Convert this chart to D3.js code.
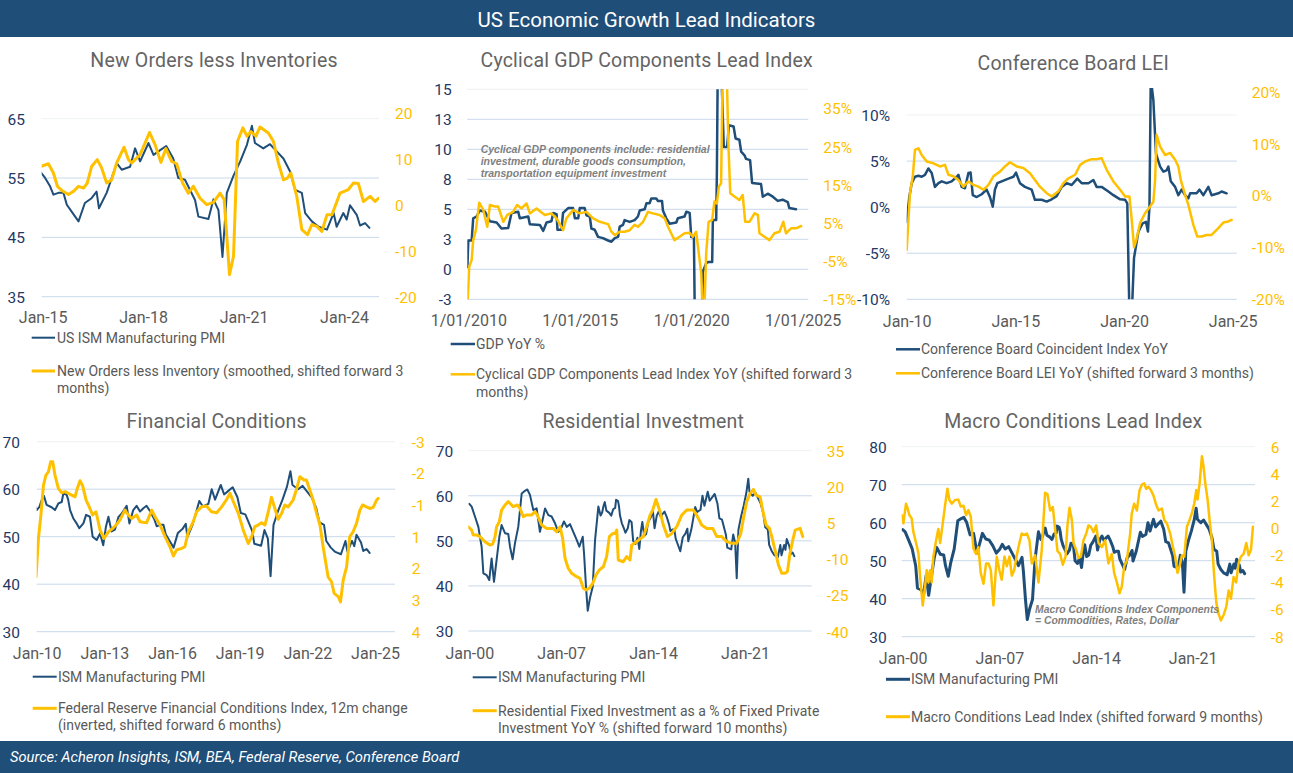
<!DOCTYPE html>
<html><head><meta charset="utf-8">
<script src="https://cdn.jsdelivr.net/npm/d3@7"></script>
<style>
body{margin:0;background:#fff}
svg{display:block}
text{font-family:Roboto,'DejaVu Sans',sans-serif}
</style>
</head><body>
<svg id="c" width="1293" height="773"></svg>
<script>
// ---------------- DATA (decimal year, value) ----------------
const ismPMI = [[2000.0,58.2],[2000.18,57.6],[2000.43,55.4],[2000.69,53.1],[2000.81,50.9],[2000.94,48.7],[2001.07,42.8],[2001.32,42.4],[2001.52,41.3],[2001.7,46.1],[2001.88,40.9],[2002.08,45.8],[2002.29,50.9],[2002.46,53.5],[2002.72,51.7],[2002.97,51.5],[2003.1,48.7],[2003.3,45.9],[2003.48,49.5],[2003.73,53.1],[2003.99,60.5],[2004.24,61.1],[2004.42,61.4],[2004.62,60.2],[2004.88,56.8],[2005.13,57.2],[2005.38,52.0],[2005.64,55.4],[2005.77,57.2],[2006.02,55.7],[2006.27,55.4],[2006.53,53.9],[2006.78,52.0],[2007.04,53.1],[2007.21,54.3],[2007.42,53.1],[2007.67,53.7],[2007.92,52.0],[2008.18,50.2],[2008.38,48.7],[2008.64,50.9],[2008.74,47.2],[2008.89,39.8],[2009.02,34.5],[2009.19,37.3],[2009.4,39.8],[2009.58,50.2],[2009.83,57.6],
[2010.0,55.6],[2010.12,56.3],[2010.22,57.7],[2010.32,58.6],[2010.44,56.7],[2010.66,56.2],[2010.81,55.6],[2010.96,57.0],[2011.11,57.3],[2011.18,59.1],[2011.33,58.8],[2011.4,57.7],[2011.48,55.6],[2011.62,53.9],[2011.77,52.8],[2011.89,51.8],[2012.07,52.8],[2012.19,54.6],[2012.36,54.2],[2012.48,50.0],[2012.66,49.3],[2012.81,50.7],[2012.95,48.2],[2013.07,52.1],[2013.18,54.2],[2013.32,51.1],[2013.47,51.5],[2013.62,54.1],[2013.77,54.9],[2013.99,56.5],[2014.11,52.8],[2014.28,55.6],[2014.43,56.5],[2014.58,55.3],[2014.73,56.0],[2014.87,56.5],
[2015.05,55.2],[2015.22,53.6],[2015.32,52.2],[2015.47,52.5],[2015.62,52.5],[2015.72,50.5],[2015.87,49.3],[2016.07,47.7],[2016.26,50.8],[2016.46,51.6],[2016.61,52.7],[2016.68,49.9],[2016.91,52.5],[2017.21,57.5],[2017.36,56.4],[2017.61,56.9],[2017.76,60.0],[2017.91,57.8],[2018.16,60.9],[2018.31,58.9],[2018.51,59.7],[2018.69,60.4],[2018.9,58.3],[2019.05,55.0],[2019.25,54.7],[2019.55,51.3],[2019.65,48.5],[2019.95,48.1],[2020.1,51.4],[2020.25,49.6],[2020.37,41.7],[2020.5,52.5],[2020.7,55.4],[2020.9,57.8],[2021.1,60.6],[2021.25,63.8],[2021.34,60.9],[2021.59,60.0],[2021.79,60.7],[2021.99,59.5],[2022.19,58.3],[2022.39,56.1],[2022.54,53.0],[2022.74,52.5],[2022.84,49.1],[2023.04,47.7],[2023.24,46.8],[2023.49,46.3],[2023.69,49.1],[2023.78,46.8],[2023.98,49.1],[2024.08,48.0],[2024.18,50.4],[2024.38,48.8],[2024.48,47.0],[2024.63,47.4],[2024.76,46.6]];

const newOrdersLessInv = [[2014.94,8.3],[2015.17,8.9],[2015.32,6.9],[2015.44,4.0],[2015.57,3.1],[2015.77,2.2],[2015.92,2.9],[2016.07,4.0],[2016.22,3.6],[2016.33,4.7],[2016.46,8.3],[2016.63,9.8],[2016.76,8.0],[2016.91,4.7],[2017.06,5.4],[2017.21,9.1],[2017.43,12.5],[2017.56,9.8],[2017.66,9.1],[2017.91,10.9],[2018.19,15.7],[2018.36,13.0],[2018.53,9.2],[2018.68,12.2],[2018.85,9.4],[2019.0,8.9],[2019.18,4.7],[2019.35,2.5],[2019.5,4.0],[2019.7,1.4],[2019.9,0],[2020.1,0.5],[2020.3,2.5],[2020.42,1.1],[2020.58,-15.2],[2020.7,-11.2],[2020.82,13.8],[2020.98,16.7],[2021.1,14.9],[2021.22,15.9],[2021.37,14.9],[2021.49,16.9],[2021.74,15.6],[2021.89,13.8],[2022.04,9.1],[2022.19,5.4],[2022.31,5.8],[2022.41,6.9],[2022.59,1.8],[2022.74,-5.4],[2022.91,-6.5],[2023.04,-4.3],[2023.19,-4.7],[2023.34,-5.8],[2023.49,-2.2],[2023.64,-2.2],[2023.88,2.5],[2024.13,3.3],[2024.28,4.7],[2024.43,4.6],[2024.58,0.7],[2024.78,1.8],[2024.93,0.7],[2025.03,1.4]];

const gdpYoY = [[2009.96,0.2],[2010.0,2.4],[2010.15,2.4],[2010.22,4.25],[2010.37,4.4],[2010.52,4.9],[2010.75,4.8],[2010.97,4.0],[2011.27,3.9],[2011.49,3.4],[2011.79,3.45],[2011.94,4.7],[2012.24,4.8],[2012.31,4.25],[2012.69,4.4],[2012.76,3.75],[2013.21,3.7],[2013.36,3.2],[2013.51,3.9],[2013.73,4.0],[2013.81,4.7],[2013.96,4.6],[2014.0,3.3],[2014.18,3.3],[2014.25,4.7],[2014.48,5.1],[2014.7,5.1],[2014.78,4.25],[2014.93,4.25],[2015.0,5.1],[2015.22,5.1],[2015.3,4.5],[2015.45,4.4],[2015.52,3.4],[2015.67,3.3],[2015.82,2.7],[2016.04,2.6],[2016.27,2.4],[2016.42,2.3],[2016.57,2.6],[2016.72,2.7],[2016.79,3.55],[2016.94,3.7],[2017.01,4.1],[2017.24,3.95],[2017.46,4.1],[2017.61,4.4],[2017.69,4.9],[2017.91,5.0],[2017.99,5.5],[2018.13,5.5],[2018.21,5.9],[2018.43,5.9],[2018.51,5.7],[2018.69,5.7],[2018.73,4.9],[2018.88,4.25],[2019.03,3.8],[2019.33,3.9],[2019.4,4.25],[2019.7,4.4],[2019.78,4.8],[2019.93,4.7],[2020.0,2.7],[2020.12,2.7],[2020.19,-9],[2020.45,-9],[2020.52,-0.2],[2020.67,0.5],[2020.75,0.6],[2020.94,0.6],[2020.97,4.1],[2021.12,4.1],[2021.15,8],[2021.19,17],[2021.34,17],[2021.46,10.2],[2021.61,10.2],[2021.69,12],[2021.9,11.9],[2021.99,10.9],[2022.16,10.8],[2022.24,9.8],[2022.39,9.5],[2022.46,9.2],[2022.64,9.1],[2022.73,7.2],[2023.13,7.1],[2023.21,6.05],[2023.43,6.3],[2023.66,6.05],[2023.88,5.7],[2024.1,5.8],[2024.33,5.6],[2024.4,5.1],[2024.7,5.0]];

const cyclicalLeadYoY = [[2009.96,-17],[2010.04,-6.5],[2010.15,-4.7],[2010.22,0.5],[2010.34,3.1],[2010.49,10.3],[2010.67,8.4],[2010.85,4.0],[2010.97,9.7],[2011.19,9.3],[2011.34,9.3],[2011.57,5.3],[2011.75,7.1],[2012.01,7.9],[2012.19,9.7],[2012.39,8.8],[2012.61,10.1],[2012.76,7.5],[2013.06,8.8],[2013.43,7.1],[2013.73,7.5],[2013.96,6.2],[2014.25,3.1],[2014.4,6.2],[2014.7,8.4],[2015.0,7.5],[2015.3,7.9],[2015.6,6.2],[2015.9,5.3],[2016.27,4.7],[2016.42,2.7],[2016.57,1.8],[2016.79,2.7],[2017.01,2.7],[2017.24,3.1],[2017.46,4.5],[2017.61,4.0],[2017.84,5.3],[2018.06,7.9],[2018.28,7.5],[2018.58,7.1],[2018.81,6.2],[2018.96,4.0],[2019.1,2.3],[2019.25,0.5],[2019.48,1.4],[2019.7,2.3],[2019.93,2.4],[2020.07,1.4],[2020.22,2.7],[2020.34,-3.0],[2020.45,-8.2],[2020.55,-25],[2020.67,-3.0],[2020.78,5.3],[2020.94,5.8],[2021.04,10.6],[2021.15,10.1],[2021.24,14.5],[2021.34,15.4],[2021.42,50],[2021.57,50],[2021.67,25],[2021.75,12.8],[2021.94,11.9],[2022.16,11.0],[2022.31,12.3],[2022.42,5.3],[2022.61,5.3],[2022.84,7.5],[2022.99,7.1],[2023.06,2.3],[2023.28,1.4],[2023.51,0.5],[2023.73,2.3],[2023.96,2.7],[2024.13,5.3],[2024.25,2.3],[2024.48,3.6],[2024.7,3.6],[2024.93,4.2]];

const cbCoincidentYoY = [[2010.0,-1.6],[2010.12,1.1],[2010.23,2.6],[2010.38,3.3],[2010.54,3.4],[2010.69,3.3],[2010.84,3.5],[2011.0,4.2],[2011.15,3.7],[2011.3,2.2],[2011.46,2.6],[2011.61,2.8],[2011.84,2.6],[2012.07,2.8],[2012.3,3.3],[2012.38,3.5],[2012.53,2.2],[2012.68,2.05],[2012.84,3.7],[2012.94,3.75],[2013.04,1.3],[2013.22,1.1],[2013.45,1.4],[2013.68,1.9],[2013.83,1.1],[2013.96,0.06],[2014.06,1.9],[2014.17,2.6],[2014.37,2.8],[2014.68,3.1],[2014.91,3.3],[2015.03,3.75],[2015.21,2.6],[2015.44,2.2],[2015.75,1.9],[2015.9,0.8],[2016.21,0.8],[2016.44,0.6],[2016.67,0.85],[2016.9,1.2],[2017.13,2.2],[2017.36,2.6],[2017.59,2.4],[2017.85,3.1],[2018.05,2.6],[2018.36,2.6],[2018.59,2.95],[2018.74,2.2],[2018.97,2.2],[2019.28,1.7],[2019.51,1.3],[2019.82,0.85],[2020.05,0.8],[2020.15,0.4],[2020.25,-12],[2020.35,-12],[2020.46,-5.5],[2020.66,-2.65],[2020.86,-1.75],[2021.01,-1.6],[2021.1,-2.65],[2021.17,0.06],[2021.23,14],[2021.35,11.6],[2021.47,5.8],[2021.66,4.4],[2021.81,3.85],[2021.96,4.0],[2022.04,4.4],[2022.15,2.8],[2022.35,2.2],[2022.5,1.3],[2022.65,1.9],[2022.81,1.3],[2022.96,0.96],[2023.04,1.5],[2023.34,1.5],[2023.47,1.9],[2023.65,1.3],[2023.88,2.2],[2024.03,1.3],[2024.34,1.5],[2024.49,1.7],[2024.72,1.5]];

const cbLeiYoY = [[2010.0,-10.5],[2010.15,0.45],[2010.28,3.7],[2010.38,8.8],[2010.54,9.1],[2010.69,7.8],[2010.92,6.55],[2011.23,6.2],[2011.53,5.6],[2011.76,5.9],[2011.92,4.0],[2012.15,3.7],[2012.38,3.0],[2012.61,1.7],[2012.84,2.7],[2013.07,2.05],[2013.3,1.7],[2013.53,1.1],[2013.76,2.05],[2013.99,3.7],[2014.29,4.6],[2014.52,5.6],[2014.75,6.4],[2015.06,5.6],[2015.37,5.3],[2015.67,4.3],[2015.9,3.0],[2016.13,1.7],[2016.44,0.45],[2016.67,-0.2],[2016.98,0.8],[2017.21,2.4],[2017.44,3.3],[2017.75,4.0],[2017.98,5.9],[2018.21,6.55],[2018.51,7.0],[2018.74,7.0],[2018.97,7.2],[2019.2,4.95],[2019.51,2.7],[2019.82,1.1],[2020.05,-0.2],[2020.25,-0.2],[2020.35,-4.5],[2020.46,-9.95],[2020.58,-8.35],[2020.74,-5.3],[2020.97,-3.4],[2021.2,-2.1],[2021.35,-1.2],[2021.43,3.0],[2021.5,11.7],[2021.66,9.4],[2021.89,7.8],[2022.12,8.2],[2022.35,6.9],[2022.5,5.6],[2022.61,3.0],[2022.81,0.13],[2022.96,-1.8],[2023.19,-5.65],[2023.37,-7.9],[2023.57,-7.9],[2023.8,-7.6],[2024.03,-7.6],[2024.34,-6.3],[2024.57,-5.2],[2024.8,-5.0],[2024.95,-4.7]];

const fedFciChange = [[2009.97,1.98],[2010.07,0.62],[2010.18,-0.24],[2010.3,-1.4],[2010.41,-1.77],[2010.52,-1.89],[2010.62,-2.26],[2010.71,-2.26],[2010.81,-1.77],[2010.96,-1.28],[2011.11,-1.12],[2011.26,-1.16],[2011.4,-1.1],[2011.55,-1.03],[2011.7,-0.97],[2011.8,-1.28],[2011.92,-1.56],[2012.04,-1.37],[2012.19,-0.85],[2012.33,-0.6],[2012.48,-0.3],[2012.63,-0.42],[2012.81,0.26],[2012.98,0.56],[2013.18,0.32],[2013.37,0.19],[2013.52,0.07],[2013.69,-0.11],[2013.91,-0.48],[2014.06,-0.3],[2014.21,-0.17],[2014.43,-0.3],[2014.58,-0.05],[2014.87,-0.01],[2015.1,-0.48],[2015.24,-0.24],[2015.47,0.07],[2015.69,0.5],[2015.91,0.87],[2016.06,1.21],[2016.2,0.99],[2016.43,0.93],[2016.57,0.87],[2016.72,0.32],[2016.94,-0.05],[2017.09,-0.42],[2017.31,-0.6],[2017.53,-0.63],[2017.75,-0.42],[2017.98,-0.38],[2018.2,-0.6],[2018.42,-0.87],[2018.57,-1.1],[2018.72,-0.79],[2018.94,-0.36],[2019.16,0.26],[2019.38,0.75],[2019.53,0.5],[2019.67,0.13],[2019.82,0.07],[2019.97,-0.01],[2020.12,0.07],[2020.27,-0.42],[2020.41,-0.95],[2020.56,-0.54],[2020.71,-0.14],[2020.86,-0.36],[2021.0,-0.67],[2021.15,-0.6],[2021.37,-0.85],[2021.52,-1.24],[2021.67,-1.71],[2021.85,-1.59],[2021.96,-1.59],[2022.11,-1.22],[2022.26,-0.85],[2022.41,-0.36],[2022.56,0.07],[2022.7,0.87],[2022.92,1.98],[2023.07,2.16],[2023.19,2.59],[2023.37,2.71],[2023.47,2.9],[2023.59,2.1],[2023.74,1.61],[2023.88,0.5],[2024.03,0.32],[2024.18,0.01],[2024.33,-0.48],[2024.45,-0.67],[2024.62,-0.6],[2024.77,-0.54],[2024.92,-0.58],[2025.07,-0.85],[2025.14,-0.91]];

const resInvShareYoY = [[1999.92,3.5],[2000.18,2.1],[2000.3,0.1],[2000.56,0.1],[2000.81,-0.6],[2001.19,-2.7],[2001.57,-4.1],[2001.78,-3.7],[2001.96,-0.6],[2002.08,3.5],[2002.29,5.6],[2002.46,10.4],[2002.72,12.5],[2002.97,13.9],[2003.35,11.8],[2003.66,12.5],[2003.86,11.1],[2004.11,7.7],[2004.37,8.4],[2004.75,8.4],[2005.0,9.7],[2005.18,8.4],[2005.51,4.2],[2005.89,2.8],[2006.2,2.8],[2006.4,2.8],[2006.65,1.4],[2006.91,3.5],[2007.11,-1.3],[2007.29,-9.5],[2007.54,-13.8],[2007.8,-15.8],[2008.18,-17.2],[2008.43,-17.9],[2008.69,-22],[2008.89,-22.7],[2009.14,-22],[2009.4,-20],[2009.65,-16.5],[2009.91,-14.4],[2010.21,-13.1],[2010.46,-8.9],[2010.67,-0.6],[2010.92,0.7],[2011.1,0.7],[2011.23,2.1],[2011.35,-10.3],[2011.73,-11],[2011.99,-8.9],[2012.24,-10.3],[2012.37,-4.1],[2012.75,-2.7],[2013.06,-1.3],[2013.26,-0.6],[2013.51,3.5],[2013.77,8.3],[2013.97,10.4],[2014.22,14.8],[2014.53,9.7],[2014.78,4.2],[2015.09,-0.6],[2015.42,0.7],[2015.8,3.5],[2016.18,8.3],[2016.56,10.4],[2017.07,10.4],[2017.32,8.3],[2017.7,4.2],[2018.08,2.8],[2018.54,2.8],[2018.85,-0.6],[2019.23,-0.6],[2019.61,-2.7],[2019.99,-3.4],[2020.37,-3.4],[2020.68,0.7],[2020.88,6.9],[2021.13,13.9],[2021.39,17.3],[2021.64,19],[2021.84,16.6],[2022.15,15.9],[2022.4,9.0],[2022.61,4.2],[2022.86,2.8],[2023.04,-0.6],[2023.29,-6.2],[2023.55,-12.4],[2023.8,-15.8],[2024.05,-15.8],[2024.23,-15.1],[2024.43,-7.5],[2024.64,-2.0],[2024.82,2.1],[2025.2,2.8],[2025.4,-0.6]];

const macroLeadIndex = [[1999.93,0.96],[2000.05,0.35],[2000.24,1.8],[2000.36,1.45],[2000.48,0.96],[2000.65,0.72],[2000.77,-0.27],[2000.97,-1.1],[2001.14,-1.86],[2001.26,-3.6],[2001.45,-5.7],[2001.62,-4.3],[2001.74,-3.1],[2001.86,-4.0],[2001.98,-3.1],[2002.1,-4.0],[2002.22,-2.1],[2002.42,-0.9],[2002.58,-0.07],[2002.71,-1.1],[2002.9,0.35],[2003.07,1.7],[2003.24,2.9],[2003.38,2.07],[2003.55,1.8],[2003.79,2.07],[2004.03,2.1],[2004.2,1.6],[2004.4,1.65],[2004.59,0.96],[2004.76,1.33],[2004.93,0.84],[2005.12,-1.5],[2005.31,-1.9],[2005.48,-1.4],[2005.65,-3.3],[2005.85,-4.1],[2006.04,-2.6],[2006.21,-2.6],[2006.38,-3.1],[2006.57,-5.7],[2006.81,-2.1],[2007.0,-3.1],[2007.17,-3.8],[2007.37,-2.1],[2007.54,-2.8],[2007.73,-2.1],[2007.9,-3.5],[2008.07,-3.1],[2008.26,-2.0],[2008.45,-1.1],[2008.62,-0.4],[2008.79,-0.5],[2008.99,-0.4],[2009.18,-0.9],[2009.35,-2.6],[2009.59,-2.0],[2009.83,-4.0],[2010.07,-1.6],[2010.31,2.6],[2010.48,2.5],[2010.68,1.3],[2010.87,1.55],[2011.04,-0.1],[2011.21,-1.7],[2011.4,-1.9],[2011.59,-2.7],[2011.79,-2.1],[2011.93,0.2],[2012.08,1.5],[2012.25,0.6],[2012.37,-1.1],[2012.56,-1.6],[2012.73,-2.2],[2012.9,-2.1],[2013.09,-0.9],[2013.29,-0.4],[2013.45,0.2],[2013.62,0.1],[2013.82,-0.3],[2014.01,0.2],[2014.18,-1.1],[2014.42,-1.4],[2014.66,-0.9],[2014.9,-2.6],[2015.14,-1.9],[2015.31,-3.3],[2015.51,-4.0],[2015.7,-4.8],[2015.87,-4.3],[2016.04,-2.8],[2016.23,-2.4],[2016.47,-0.4],[2016.59,1.1],[2016.76,1.8],[2016.96,1.3],[2017.15,2.8],[2017.32,3.2],[2017.49,3.3],[2017.63,2.9],[2017.8,3.05],[2017.97,2.8],[2018.16,2.4],[2018.36,1.7],[2018.53,1.3],[2018.77,1.45],[2018.94,0.6],[2019.13,0.35],[2019.37,-0.4],[2019.57,-1.4],[2019.73,-2.1],[2019.9,-3.3],[2020.05,-2.8],[2020.22,-2.0],[2020.39,-2.1],[2020.58,0.1],[2020.77,0.6],[2020.94,1.1],[2021.11,1.8],[2021.26,2.8],[2021.35,2.1],[2021.5,3.3],[2021.67,5.3],[2021.79,4.5],[2021.91,3.3],[2022.08,2.1],[2022.22,0.6],[2022.39,-0.9],[2022.56,-3.6],[2022.71,-5.5],[2022.87,-6.3],[2023.04,-6.8],[2023.24,-6.4],[2023.43,-5.8],[2023.6,-4.6],[2023.77,-5.2],[2023.96,-3.6],[2024.15,-4.0],[2024.32,-2.6],[2024.49,-2.1],[2024.69,-1.9],[2024.88,-1.1],[2025.05,-2.0],[2025.22,-1.6],[2025.36,0.1]];

// tick values and labels
const p1XTicks = [2015,2018,2021,2024], p1XLabels = ['Jan-15','Jan-18','Jan-21','Jan-24'];
const p1LTicks = [35,45,55,65], p1LLabels = ['35','45','55','65'];
const p1RTicks = [-20,-10,0,10,20], p1RLabels = ['-20','-10','0','10','20'];
const p2XTicks = [2010,2015,2020,2025], p2XLabels = ['1/01/2010','1/01/2015','1/01/2020','1/01/2025'];
const p2LTicks = [-2.5,0,2.5,5,7.5,10,12.5,15], p2LLabels = ['-3','0','3','5','8','10','13','15'];
const p2RTicks = [-15,-5,5,15,25,35], p2RLabels = ['-15%','-5%','5%','15%','25%','35%'];
const p3XTicks = [2010,2015,2020,2025], p3XLabels = ['Jan-10','Jan-15','Jan-20','Jan-25'];
const p3LTicks = [-10,-5,0,5,10], p3LLabels = ['-10%','-5%','0%','5%','10%'];
const p3RTicks = [-20,-10,0,10,20], p3RLabels = ['-20%','-10%','0%','10%','20%'];
const p4XTicks = [2010,2013,2016,2019,2022,2025], p4XLabels = ['Jan-10','Jan-13','Jan-16','Jan-19','Jan-22','Jan-25'];
const p4LTicks = [30,40,50,60,70], p4LLabels = ['30','40','50','60','70'];
const p4RTicks = [-3,-1.833,-0.667,0.5,1.667,2.833,4], p4RLabels = ['-3','-2','-1','1','2','3','4'];
const p5XTicks = [2000,2007,2014,2021], p5XLabels = ['Jan-00','Jan-07','Jan-14','Jan-21'];
const p5LTicks = [30,40,50,60,70], p5LLabels = ['30','40','50','60','70'];
const p5RTicks = [-40,-25,-10,5,20,35], p5RLabels = ['-40','-25','-10','5','20','35'];
const p6XTicks = [2000,2007,2014,2021], p6XLabels = ['Jan-00','Jan-07','Jan-14','Jan-21'];
const p6LTicks = [30,40,50,60,70,80], p6LLabels = ['30','40','50','60','70','80'];
const p6RTicks = [-8,-6,-4,-2,0,2,4,6], p6RLabels = ['-8','-6','-4','-2','0','2','4','6'];

// ---------------- STYLE ----------------
const NAVY = '#1f4e79', GOLD = '#ffc000', GRAY = '#595959', BAND = '#1f4e79';
const svg = d3.select('#c');
svg.append('rect').attr('width',1293).attr('height',773).attr('fill','#fff');
svg.append('rect').attr('x',0).attr('y',0).attr('width',1293).attr('height',37).attr('fill',BAND);
svg.append('text').attr('x',646.5).attr('y',19.5).attr('text-anchor','middle').attr('dominant-baseline','central')
  .attr('fill','#fff').attr('font-size',20.5).text('US Economic Growth Lead Indicators');
svg.append('rect').attr('x',0).attr('y',741).attr('width',1293).attr('height',32).attr('fill',BAND);
svg.append('text').attr('x',10).attr('y',757).attr('dominant-baseline','central').attr('fill','#fff')
  .attr('font-size',14.7).attr('font-style','italic').text('Source: Acheron Insights, ISM, BEA, Federal Reserve, Conference Board');

const panels = [
 {title:'New Orders less Inventories', tx:214, ty:60, gx0:41.7, gx1:379, top:110, bottom:297,
  xA:[2015,42.7], xB:[2024,344], xTicks:p1XTicks, xLabels:p1XLabels, xLabelY:317,
  lDom:[35,65], lRange:[296.7,118.7], lTicks:p1LTicks, lLabels:p1LLabels, lX:25,
  rDom:[-20,20], rRange:[296.7,112.7], rTicks:p1RTicks, rLabels:p1RLabels, rX:395,
  series:[{data:ismPMI, axis:'l', color:NAVY, w:2},{data:newOrdersLessInv, axis:'r', color:GOLD, w:3}],
  legend:[{y:337.7,x0:31.7,x1:55,tx:57,color:NAVY,w:2,lines:['US ISM Manufacturing PMI']},
          {y:371,x0:31.7,x1:55,tx:57,color:GOLD,w:3,lines:['New Orders less Inventory (smoothed, shifted forward 3','months)']}], gap:17},
 {title:'Cyclical GDP Components Lead Index', tx:646.7, ty:60, gx0:467.3, gx1:808.3, top:89.3, bottom:299.3,
  xA:[2010,468.3], xB:[2025,802.7], xTicks:p2XTicks, xLabels:p2XLabels, xLabelY:320,
  lDom:[-2.5,15], lRange:[299.3,89.3], lTicks:p2LTicks, lLabels:p2LLabels, lX:451.7,
  rDom:[-15,40], rRange:[299.3,89.3], rTicks:p2RTicks, rLabels:p2RLabels, rX:823.3,
  series:[{data:gdpYoY, axis:'l', color:NAVY, w:2.5},{data:cyclicalLeadYoY, axis:'r', color:GOLD, w:2.5}],
  legend:[{y:344,x0:450.7,x1:475,tx:476,color:NAVY,w:2.5,lines:['GDP YoY %']},
          {y:374.3,x0:450.7,x1:475,tx:476,color:GOLD,w:2.5,lines:['Cyclical GDP Components Lead Index YoY (shifted forward 3','months)']}], gap:17.4,
  note:{x:480.7, y:149, size:10.5, gap:11.8, lines:['Cyclical GDP components include: residential','investment, durable goods consumption,','transportation equipment investment']}},
 {title:'Conference Board LEI', tx:1073.3, ty:63, gx0:906.7, gx1:1236.7, top:88, bottom:299.3,
  xA:[2010,906.7], xB:[2025,1232.7], xTicks:p3XTicks, xLabels:p3XLabels, xLabelY:321.7,
  lDom:[-10,10], lRange:[299.3,115], lTicks:p3LTicks, lLabels:p3LLabels, lX:890,
  rDom:[-20,20], rRange:[299.3,91.7], rTicks:p3RTicks, rLabels:p3RLabels, rX:1251.7,
  series:[{data:cbCoincidentYoY, axis:'l', color:NAVY, w:2.5},{data:cbLeiYoY, axis:'r', color:GOLD, w:2.5}],
  legend:[{y:349.3,x0:896,x1:920,tx:921,color:NAVY,w:2.5,lines:['Conference Board Coincident Index YoY']},
          {y:373.3,x0:896,x1:920,tx:921,color:GOLD,w:2.5,lines:['Conference Board LEI YoY (shifted forward 3 months)']}], gap:17},
 {title:'Financial Conditions', tx:216.7, ty:421.7, gx0:36.7, gx1:395, top:441.7, bottom:631.7,
  xA:[2010,36.7], xB:[2025,375], xTicks:p4XTicks, xLabels:p4XLabels, xLabelY:653.3,
  lDom:[30,70], lRange:[631.7,441.7], lTicks:p4LTicks, lLabels:p4LLabels, lX:20,
  rDom:[-3,4], rRange:[441.7,631.7], rTicks:p4RTicks, rLabels:p4RLabels, rX:411.7,
  series:[{data:ismPMI, axis:'l', color:NAVY, w:2},{data:fedFciChange, axis:'r', color:GOLD, w:3}],
  legend:[{y:676.7,x0:32.7,x1:56.7,tx:58,color:NAVY,w:2,lines:['ISM Manufacturing PMI']},
          {y:708.3,x0:32.7,x1:56.7,tx:58,color:GOLD,w:3,lines:['Federal Reserve Financial Conditions Index, 12m change','(inverted, shifted forward 6 months)']}], gap:16.7},
 {title:'Residential Investment', tx:643.3, ty:421.7, gx0:468.3, gx1:811.7, top:450.7, bottom:631.7,
  xA:[2000,469.3], xB:[2021,745], xTicks:p5XTicks, xLabels:p5XLabels, xLabelY:653.3,
  lDom:[30,70], lRange:[631,450.7], lTicks:p5LTicks, lLabels:p5LLabels, lX:453.3,
  rDom:[-40,35], rRange:[631.7,450.7], rTicks:p5RTicks, rLabels:p5RLabels, rX:826.7,
  series:[{data:ismPMI, axis:'l', color:NAVY, w:2},{data:resInvShareYoY, axis:'r', color:GOLD, w:3}],
  legend:[{y:677.3,x0:472.7,x1:496.7,tx:498,color:NAVY,w:2,lines:['ISM Manufacturing PMI']},
          {y:710.7,x0:472.7,x1:496.7,tx:498,color:GOLD,w:3,lines:['Residential Fixed Investment as a % of Fixed Private','Investment YoY % (shifted forward 10 months)']}], gap:17.6},
 {title:'Macro Conditions Lead Index', tx:1073.3, ty:421.7, gx0:901.7, gx1:1255, top:446.7, bottom:636.7,
  xA:[2000,902.7], xB:[2021,1192.7], xTicks:p6XTicks, xLabels:p6XLabels, xLabelY:658.3,
  lDom:[30,80], lRange:[636.7,446.7], lTicks:p6LTicks, lLabels:p6LLabels, lX:886.7,
  rDom:[-8,6], rRange:[636.7,446.7], rTicks:p6RTicks, rLabels:p6RLabels, rX:1270.7,
  series:[{data:ismPMI, axis:'l', color:NAVY, w:3},{data:macroLeadIndex, axis:'r', color:GOLD, w:2.5}],
  legend:[{y:679.3,x0:886,x1:910,tx:911,color:NAVY,w:3,lines:['ISM Manufacturing PMI']},
          {y:716.7,x0:886,x1:910,tx:911,color:GOLD,w:3,lines:['Macro Conditions Lead Index (shifted forward 9 months)']}], gap:17,
  note:{x:1035, y:609, size:10.4, gap:11.7, lines:['Macro Conditions Index Components','= Commodities, Rates, Dollar']}}
];

function drawPanel(c, i){
  const g = svg.append('g');
  const x = d3.scaleLinear().domain([c.xA[0], c.xB[0]]).range([c.xA[1], c.xB[1]]);
  const yl = d3.scaleLinear().domain(c.lDom).range(c.lRange);
  const yr = d3.scaleLinear().domain(c.rDom).range(c.rRange);

  g.append('text').attr('x',c.tx).attr('y',c.ty).attr('text-anchor','middle').attr('dominant-baseline','central')
    .attr('fill','#646464').attr('font-size',19.5).attr('letter-spacing',0.2).text(c.title);

  const maxT = d3.max(c.lTicks);
  g.selectAll('line.grid').data(c.lTicks).join('line').attr('class','grid')
    .attr('x1',c.gx0).attr('x2',c.gx1).attr('y1',d=>yl(d)).attr('y2',d=>yl(d))
    .attr('stroke', d=> d===maxT ? '#eef1f4' : '#c8d8ea').attr('stroke-width',1);

  const la = g.append('g').attr('transform',`translate(${c.lX},0)`)
    .call(d3.axisLeft(yl).tickValues(c.lTicks).tickFormat((d,k)=>c.lLabels[k]).tickSize(0).tickPadding(0));
  la.select('.domain').remove();
  la.selectAll('text').attr('fill','#1f3864').attr('font-size',15.5).attr('dy','0.35em');

  const ra = g.append('g').attr('transform',`translate(${c.rX},0)`)
    .call(d3.axisRight(yr).tickValues(c.rTicks).tickFormat((d,k)=>c.rLabels[k]).tickSize(0).tickPadding(0));
  ra.select('.domain').remove();
  ra.selectAll('text').attr('fill',GOLD).attr('font-size',15.5).attr('dy','0.35em');

  const xa = g.append('g').attr('transform',`translate(0,${c.xLabelY})`)
    .call(d3.axisBottom(x).tickValues(c.xTicks).tickFormat((d,k)=>c.xLabels[k]).tickSize(0).tickPadding(0));
  xa.select('.domain').remove();
  xa.selectAll('text').attr('fill',GRAY).attr('font-size',16).attr('dy','0.35em');

  const id = 'clip'+i;
  g.append('clipPath').attr('id',id).append('rect')
    .attr('x',c.gx0).attr('y',c.top).attr('width',c.gx1-c.gx0).attr('height',c.bottom-c.top);
  const lines = g.append('g').attr('clip-path',`url(#${id})`);
  const lo = x.invert(c.gx0) - 0.3, hi = x.invert(c.gx1) + 0.3;
  c.series.forEach(s=>{
    const ys = s.axis==='l' ? yl : yr;
    const d = s.data.filter(p=>p[0]>=lo && p[0]<=hi);
    lines.append('path').datum(d)
      .attr('d', d3.line().x(p=>x(p[0])).y(p=>ys(p[1])))
      .attr('fill','none').attr('stroke',s.color).attr('stroke-width',s.w)
      .attr('stroke-linejoin','round').attr('stroke-linecap','round');
  });

  c.legend.forEach(l=>{
    g.append('line').attr('x1',l.x0).attr('x2',l.x1).attr('y1',l.y).attr('y2',l.y)
      .attr('stroke',l.color).attr('stroke-width',l.w);
    l.lines.forEach((t,k)=>{
      g.append('text').attr('x',l.tx).attr('y',l.y + k*c.gap).attr('dominant-baseline','central')
        .attr('fill',GRAY).attr('font-size',14).text(t);
    });
  });

  if (c.note){
    c.note.lines.forEach((t,k)=>{
      g.append('text').attr('x',c.note.x).attr('y',c.note.y + k*c.note.gap).attr('dominant-baseline','central')
        .attr('fill','#7f7f7f').attr('font-size',c.note.size).attr('font-weight','bold').attr('font-style','italic')
        .style('font-family',"'Liberation Sans',Arial,sans-serif").text(t);
    });
  }
}
panels.forEach(drawPanel);
</script>
</body></html>
